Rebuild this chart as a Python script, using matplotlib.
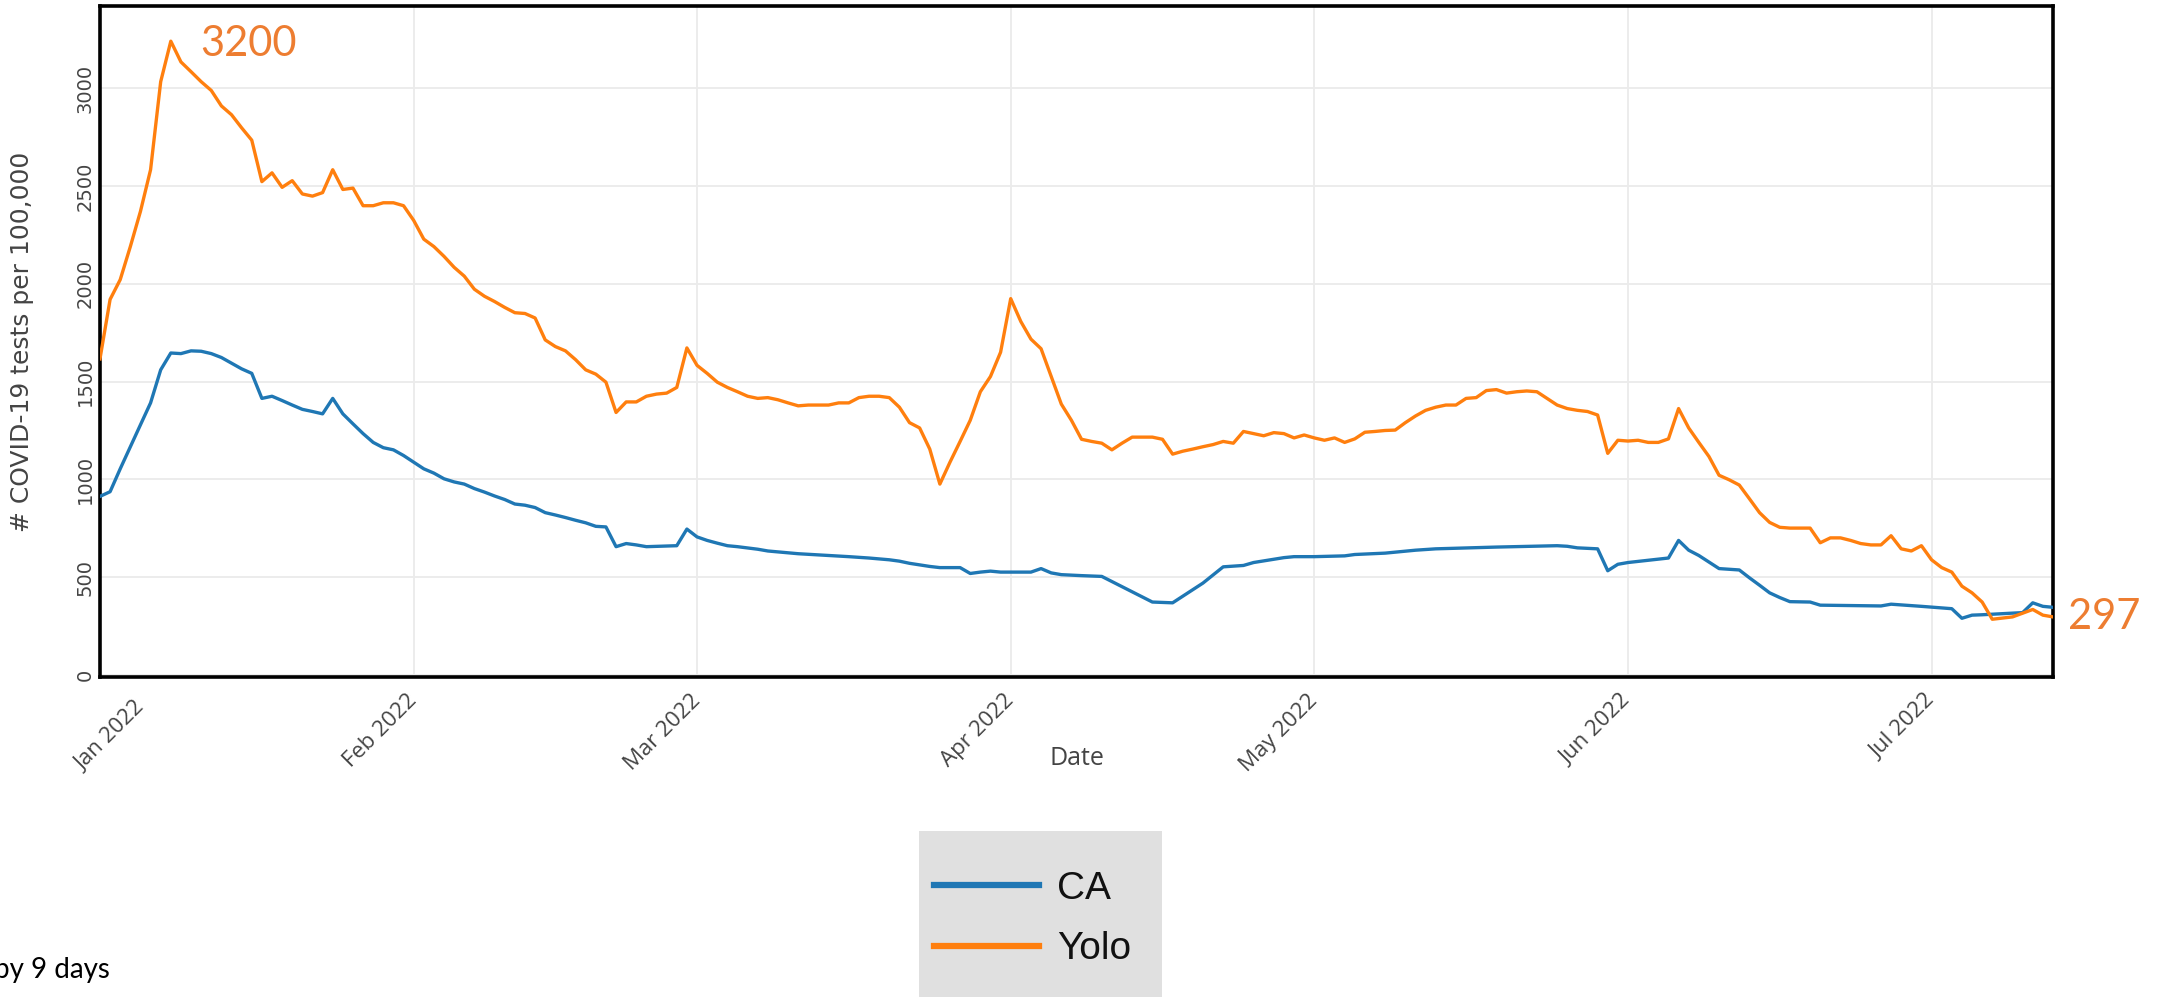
import pandas as pd
import matplotlib.pyplot as plt
import matplotlib.dates as mdates
from matplotlib.lines import Line2D
from matplotlib.patches import Rectangle
from matplotlib.transforms import ScaledTranslation

# Days since 2022-01-01 (series already shifted by 9 days) and tests per 100k
yolo_day = [0, 1, 2, 3, 4, 5, 6, 7, 8, 9, 10, 11, 12, 13, 14, 15, 16, 17, 18, 19,
            20, 21, 22, 23, 24, 25, 26, 27, 28, 29, 30, 31, 32, 33, 34, 35, 36, 37,
            38, 39, 40, 41, 42, 43, 44, 45, 46, 47, 48, 49, 50, 51, 52, 53, 54, 55,
            56, 57, 58, 59, 60, 61, 62, 63, 64, 65, 66, 67, 68, 69, 70, 72, 73, 74,
            75, 76, 77, 78, 79, 80, 81, 82, 83, 84, 85, 86, 87, 88, 89, 90, 91, 92,
            93, 94, 95, 96, 97, 98, 99, 100, 101, 102, 104, 105, 106, 107, 108, 109,
            110, 111, 112, 113, 114, 115, 116, 117, 118, 119, 120, 121, 122, 123,
            124, 125, 126, 127, 128, 129, 130, 131, 132, 133, 134, 135, 136, 137,
            138, 139, 140, 141, 142, 143, 144, 145, 146, 147, 148, 149, 150, 151,
            152, 153, 154, 155, 156, 157, 158, 159, 160, 161, 162, 163, 164, 165,
            166, 167, 169, 170, 171, 172, 173, 174, 175, 176, 177, 178, 179, 180,
            181, 182, 183, 184, 185, 186, 187, 189, 191, 192, 193]
yolo_val = [1616, 1920, 2021, 2190, 2370, 2583, 3033, 3240, 3134, 3084, 3033, 2988,
            2909, 2864, 2797, 2734, 2522, 2567, 2493, 2527, 2459, 2448, 2466, 2583,
            2482, 2489, 2399, 2399, 2414, 2414, 2399, 2324, 2228, 2190, 2140, 2084,
            2039, 1972, 1936, 1909, 1879, 1852, 1848, 1825, 1713, 1679, 1657, 1612,
            1560, 1538, 1497, 1342, 1396, 1396, 1425, 1436, 1441, 1470, 1672, 1583,
            1542, 1497, 1470, 1448, 1425, 1414, 1418, 1407, 1391, 1376, 1380, 1380,
            1391, 1391, 1418, 1425, 1425, 1418, 1369, 1290, 1263, 1155, 976, 1088,
            1194, 1302, 1448, 1526, 1650, 1924, 1807, 1717, 1668, 1526, 1385, 1302,
            1205, 1194, 1185, 1151, 1185, 1216, 1216, 1205, 1129, 1144, 1155, 1167,
            1178, 1194, 1185, 1245, 1234, 1223, 1239, 1234, 1212, 1227, 1212, 1200,
            1212, 1189, 1207, 1241, 1245, 1250, 1252, 1290, 1324, 1353, 1369, 1380,
            1380, 1414, 1418, 1454, 1459, 1441, 1448, 1452, 1448, 1414, 1380, 1362,
            1353, 1347, 1329, 1133, 1200, 1196, 1200, 1189, 1189, 1207, 1362, 1263,
            1189, 1117, 1021, 998, 971, 901, 830, 780, 755, 751, 751, 676, 701, 701,
            688, 672, 665, 665, 712, 645, 634, 661, 589, 549, 526, 454, 420, 373,
            285, 297, 335, 306, 297]

ca_day = [0, 1, 2, 3, 4, 5, 6, 7, 8, 9, 10, 11, 12, 13, 14, 15, 16, 17, 18, 19, 20,
          21, 22, 23, 24, 25, 26, 27, 28, 29, 30, 31, 32, 33, 34, 35, 36, 37, 38, 39,
          40, 41, 42, 43, 44, 45, 46, 47, 48, 49, 50, 51, 52, 53, 54, 57, 58, 59, 60,
          61, 62, 63, 65, 66, 68, 69, 72, 74, 76, 78, 79, 80, 82, 83, 85, 86, 87, 88,
          89, 92, 93, 94, 95, 97, 99, 104, 106, 109, 111, 113, 114, 117, 118, 120,
          123, 124, 127, 130, 132, 138, 144, 145, 146, 148, 149, 150, 151, 155, 156,
          157, 158, 160, 162, 163, 164, 165, 166, 167, 169, 170, 176, 177, 180, 183,
          184, 185, 186, 190, 191, 192, 193]
ca_val = [913, 937, 1054, 1167, 1279, 1391, 1560, 1646, 1643, 1657, 1655, 1643, 1623,
          1594, 1565, 1542, 1414, 1425, 1403, 1380, 1358, 1347, 1335, 1414, 1335,
          1284, 1234, 1189, 1162, 1151, 1122, 1088, 1054, 1032, 1003, 987, 976, 953,
          935, 915, 897, 874, 868, 856, 830, 818, 805, 791, 778, 760, 757, 656, 672,
          665, 656, 661, 746, 706, 688, 674, 661, 656, 643, 634, 625, 620, 611, 605,
          598, 589, 582, 571, 555, 549, 549, 519, 526, 531, 526, 526, 544, 522, 513,
          508, 504, 373, 369, 470, 553, 560, 575, 600, 605, 605, 609, 616, 623, 638,
          645, 654, 661, 658, 650, 645, 533, 566, 575, 598, 688, 638, 611, 544, 537,
          497, 459, 420, 396, 375, 373, 357, 353, 362, 351, 339, 290, 306, 308, 319,
          369, 351, 346]

series_names = ["CA", "Yolo"]
series_colors = ["#1f77b4", "#ff7f0e"]
peak_label = "3200"
last_label = "297"
note_text = "by 9 days"

START = pd.Timestamp("2022-01-01")
NOTE_COLOR = "#ED7D31"
AXIS_GREY = "#444444"


def to_dates(days):
    return START + pd.to_timedelta(days, unit="D")


def plot_tests():
    fig = plt.figure(figsize=(21.64, 9.97), dpi=100)
    ax = fig.add_axes([0.0462, 0.321, 0.9025, 0.673])

    ca_dates = to_dates(ca_day)
    yolo_dates = to_dates(yolo_day)
    ax.plot(ca_dates, ca_val, color=series_colors[0], linewidth=2.4, zorder=3)
    ax.plot(yolo_dates, yolo_val, color=series_colors[1], linewidth=2.4, zorder=3)

    ax.set_xlim(START, yolo_dates[-1])
    ax.set_ylim(-10, 3420)
    ax.set_yticks(range(0, 3001, 500))
    ax.xaxis.set_major_locator(mdates.MonthLocator())
    ax.xaxis.set_major_formatter(mdates.DateFormatter("%b %Y"))

    ax.grid(True, color="#ebebeb", linewidth=1.3, zorder=0)
    ax.set_axisbelow(True)
    for spine in ax.spines.values():
        spine.set_color("black")
        spine.set_linewidth(2.6)

    ax.tick_params(length=0)
    ax.tick_params(axis="y", pad=4, labelsize=14, labelcolor=AXIS_GREY)
    ax.tick_params(axis="x", pad=15, labelsize=16, labelcolor=AXIS_GREY)
    for lab in ax.get_yticklabels():
        lab.set_rotation(90)
        lab.set_va("center")
        lab.set_family("DejaVu Sans")
    xlabels = ax.get_xticklabels()
    for lab in xlabels:
        lab.set_rotation(45)
        lab.set_ha("right")
        lab.set_va("center")
        lab.set_rotation_mode("anchor")
        lab.set_family("Open Sans")
    # first label is pushed right so it stays clear of the left edge
    xlabels[0].set_transform(xlabels[0].get_transform()
                             + ScaledTranslation(0.42, -0.07, fig.dpi_scale_trans))

    ax.set_xlabel("Date", fontsize=18, color=AXIS_GREY, family="Open Sans",
                  va="center")
    ax.xaxis.set_label_coords(0.5, -0.122)
    ax.set_ylabel("# COVID-19 tests per 100,000", fontsize=18, color=AXIS_GREY,
                  family="DejaVu Sans", va="center")
    ax.yaxis.set_label_coords(-0.04, 0.5)

    # Callouts on the Yolo series
    peak_i = yolo_val.index(max(yolo_val))
    ax.annotate(peak_label, xy=(yolo_dates[peak_i], yolo_val[peak_i]),
                xytext=(56, -2), textcoords="offset points", ha="center",
                va="center", fontsize=30, color=NOTE_COLOR, family="Lato",
                annotation_clip=False)
    ax.annotate(last_label, xy=(yolo_dates[-1], yolo_val[-1]),
                xytext=(37, 0), textcoords="offset points", ha="center",
                va="center", fontsize=30, color=NOTE_COLOR, family="Lato",
                annotation_clip=False)

    # Legend box runs off the bottom of the image, as in the source
    fig.patches.append(Rectangle((0.4247, -0.02), 0.1123, 0.1865,
                                 transform=fig.transFigure, facecolor="#e0e0e0",
                                 edgecolor="none", zorder=0))
    handles = [Line2D([], [], color=c, linewidth=4.5) for c in series_colors]
    leg = fig.legend(handles, series_names, loc="upper left",
                     bbox_to_anchor=(0.4317, 0.1264), borderaxespad=0,
                     handlelength=2.7, handletextpad=0.45, labelspacing=0.63,
                     borderpad=0, frameon=False,
                     prop={"family": "Liberation Sans", "size": 28})
    for t in leg.get_texts():
        t.set_color("#111111")

    fig.text(-0.003, 1 - 970 / 997, note_text, fontsize=20, family="Lato",
             color="black", ha="left", va="center")
    return fig


def main():
    fig = plot_tests()
    fig.savefig("out.png", dpi=100)
    plt.close(fig)


if __name__ == "__main__":
    main()
